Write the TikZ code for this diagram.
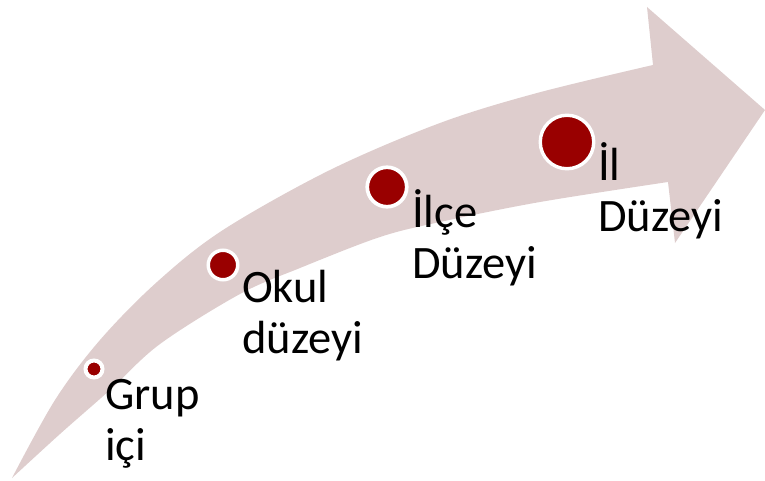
\documentclass[tikz,border=0pt]{standalone}
\usepackage{fontspec}
\setmainfont{Carlito}
\definecolor{bandpink}{RGB}{222,205,205}
\definecolor{dotred}{RGB}{153,0,0}
\tikzset{
  band/.style={fill=bandpink},
  dot/.style={circle, fill=dotred, draw=white, inner sep=0pt},
  lbl/.style={anchor=base west, inner sep=0pt, font=\fontsize{46.5}{51}\selectfont}
}
\begin{document}
\begin{tikzpicture}[x=1pt,y=-1pt]
\useasboundingbox (0,0) rectangle (765,481);
\fill[band] plot[smooth, tension=0.55] coordinates {(12,478) (55,400) (100,340) (157,282) (223,230) (330,170) (440,123) (537,93) (653,65)}
  -- (647,7) -- (765,110) -- (675,243) -- (668,182)
  -- plot[smooth, tension=0.55] coordinates {(668,182) (540,202) (440,222) (380,237) (300,268) (240,294) (160,344) (110,390) (60,434) (12,478)} -- cycle;
\node[dot, line width=4pt, minimum size=17pt] (d1) at (94,369) {};
\node[dot, line width=3.5pt, minimum size=29.5pt] (d2) at (223,265) {};
\node[dot, line width=3.7pt, minimum size=39.5pt] (d3) at (387,187) {};
\node[dot, line width=3.4pt, minimum size=53.5pt] (d4) at (567,142) {};
\node[lbl] (t1) at (105,409) {\vtop{\hbox{Grup}\hbox{içi}}};
\node[lbl] (t2) at (242,302) {\vtop{\hbox{Okul}\hbox{düzeyi}}};
\node[lbl] (t3) at (412,227) {\vtop{\hbox{İlçe}\hbox{Düzeyi}}};
\node[lbl] (t4) at (598,181) {\vtop{\hbox{İl}\hbox{Düzeyi}}};
\end{tikzpicture}
\end{document}
